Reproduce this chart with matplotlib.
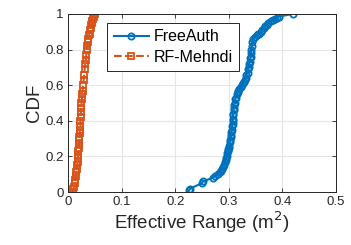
import matplotlib
matplotlib.use("Agg")
from matplotlib import pyplot as plt

plt.rcParams['font.family'] = ['Liberation Sans', 'DejaVu Sans']

# FreeAuth effective range (m^2) and CDF
free_x = [0.226, 0.228, 0.250, 0.252, 0.270, 0.275, 0.280, 0.284, 0.286, 0.288,
          0.290, 0.291, 0.293, 0.294, 0.295, 0.296, 0.297, 0.298, 0.299, 0.300,
          0.301, 0.302, 0.303, 0.304, 0.305, 0.305, 0.306, 0.306, 0.307, 0.307,
          0.308, 0.308, 0.308, 0.309, 0.309, 0.310, 0.311, 0.312, 0.313, 0.315,
          0.317, 0.318, 0.320, 0.322, 0.324, 0.326, 0.328, 0.330, 0.332, 0.333,
          0.335, 0.336, 0.337, 0.338, 0.339, 0.340, 0.341, 0.341, 0.342, 0.343,
          0.344, 0.346, 0.349, 0.352, 0.355, 0.357, 0.360, 0.362, 0.366, 0.368,
          0.371, 0.373, 0.378, 0.383, 0.386, 0.390, 0.393, 0.419]
free_y = [0.01, 0.02, 0.05, 0.06, 0.08, 0.09, 0.10, 0.11, 0.12, 0.13,
          0.14, 0.15, 0.17, 0.18, 0.19, 0.20, 0.22, 0.23, 0.24, 0.25,
          0.26, 0.28, 0.29, 0.31, 0.32, 0.34, 0.35, 0.37, 0.38, 0.40,
          0.41, 0.43, 0.44, 0.46, 0.47, 0.49, 0.50, 0.52, 0.53, 0.55,
          0.56, 0.57, 0.58, 0.59, 0.60, 0.61, 0.62, 0.63, 0.64, 0.66,
          0.67, 0.69, 0.70, 0.72, 0.73, 0.75, 0.76, 0.78, 0.80, 0.82,
          0.84, 0.86, 0.87, 0.88, 0.885, 0.89, 0.90, 0.91, 0.92, 0.93,
          0.94, 0.95, 0.96, 0.965, 0.97, 0.98, 0.985, 1.0]

# RF-Mehndi effective range (m^2) and CDF
rf_x = [0.009, 0.010, 0.011, 0.012, 0.013, 0.014, 0.015, 0.016, 0.017, 0.018,
        0.018, 0.019, 0.019, 0.020, 0.020, 0.021, 0.021, 0.022, 0.022, 0.023,
        0.023, 0.024, 0.024, 0.025, 0.025, 0.026, 0.026, 0.027, 0.028, 0.029,
        0.030, 0.031, 0.032, 0.033, 0.034, 0.035, 0.036, 0.037, 0.038, 0.039,
        0.040, 0.041, 0.042, 0.043, 0.044, 0.045, 0.046, 0.048, 0.050]
rf_y = [0.00, 0.02, 0.03, 0.05, 0.07, 0.09, 0.11, 0.13, 0.15, 0.17,
        0.19, 0.21, 0.23, 0.25, 0.27, 0.29, 0.31, 0.33, 0.35, 0.37,
        0.40, 0.42, 0.45, 0.47, 0.50, 0.52, 0.55, 0.57, 0.60, 0.63,
        0.66, 0.69, 0.72, 0.74, 0.77, 0.80, 0.82, 0.84, 0.86, 0.88,
        0.89, 0.91, 0.92, 0.94, 0.95, 0.96, 0.97, 0.985, 1.0]

blue = '#0072BD'
orange = '#D95319'

fig = plt.figure(figsize=(3.51, 2.45), dpi=100)
ax = fig.add_axes([0.194, 0.216, 0.763, 0.727])

ax.plot(free_x, free_y, '-o', color=blue, lw=1.5, ms=4.5, mfc='none',
        mew=1.3, label='FreeAuth')
ax.plot(rf_x, rf_y, '--s', color=orange, lw=1.5, ms=4, mfc='none',
        mew=1.3, label='RF-Mehndi')

ax.set_xlim(0, 0.5)
ax.set_ylim(0, 1)
ax.set_xticks([0, 0.1, 0.2, 0.3, 0.4, 0.5])
ax.set_xticklabels(['0', '0.1', '0.2', '0.3', '0.4', '0.5'])
ax.set_yticks([0, 0.2, 0.4, 0.6, 0.8, 1])
ax.set_yticklabels(['0', '0.2', '0.4', '0.6', '0.8', '1'])
ax.grid(True, color='#e6e6e6', lw=0.8)
ax.set_axisbelow(True)
ax.tick_params(direction='in', top=True, right=True, labelsize=9.5,
               length=3, width=0.6, colors='#262626', pad=3)
for s in ax.spines.values():
    s.set_linewidth(0.7)
    s.set_color('#262626')

ax.set_xlabel('Effective Range (m$^2$)', fontsize=13.5, color='#262626', labelpad=1)
ax.set_ylabel('CDF', fontsize=13.5, color='#262626', labelpad=2)

leg = ax.legend(loc='upper left', bbox_to_anchor=(0.147, 0.95), fontsize=11.5,
                fancybox=False, framealpha=1, edgecolor='#262626',
                handlelength=2.2, borderpad=0.4, labelspacing=0.35,
                handletextpad=0.3, borderaxespad=0)
leg.get_frame().set_linewidth(0.7)

fig.savefig('out.png', dpi=100)
